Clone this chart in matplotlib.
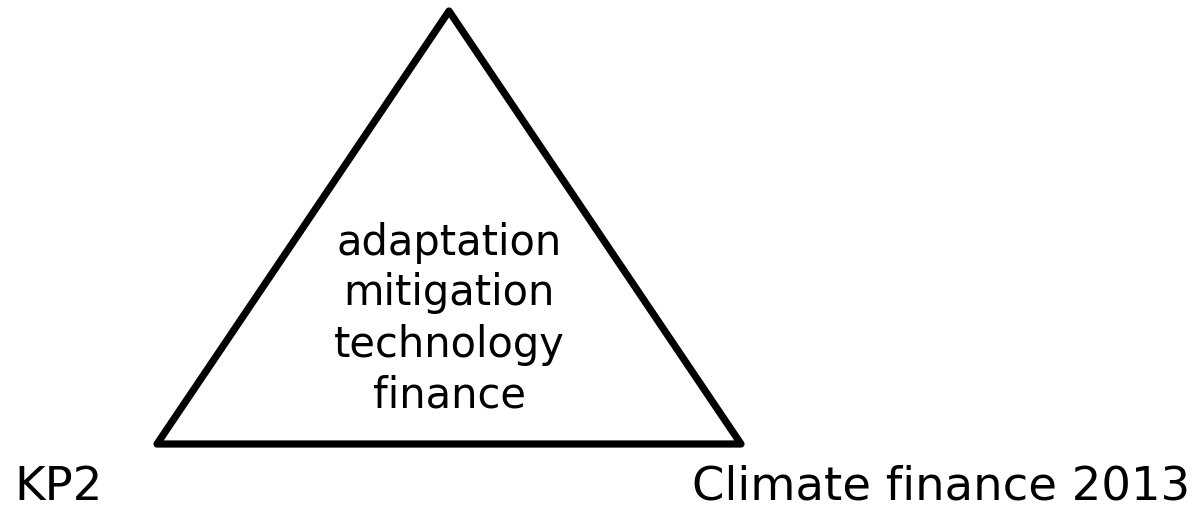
import matplotlib.pyplot as plt

# triangle corners (top, bottom-right, bottom-left)
tri_x = [449, 741, 157]
tri_y = [12, 445, 445]
inner_lines = ["adaptation", "mitigation", "technology", "finance"]
inner_base = [255, 305, 357, 408]
left_label = "KP2"
right_label = "Climate finance 2013"

fig = plt.figure(figsize=(11.98, 5.10), dpi=100)
ax = fig.add_axes([0, 0, 1, 1])
ax.set_xlim(0, 1198)
ax.set_ylim(510, 0)
ax.axis('off')

ax.fill(tri_x, tri_y, facecolor='none', edgecolor='black', linewidth=5.2, joinstyle='round')

for txt, yb in zip(inner_lines, inner_base):
	ax.text(449, yb, txt, ha='center', va='baseline', fontsize=30, family='DejaVu Sans')

# baseline kept a little above the bottom so descent box stays inside
ax.text(14, 500, left_label, ha='left', va='baseline', fontsize=33.5, family='DejaVu Sans')
ax.text(1190, 500, right_label, ha='right', va='baseline', fontsize=33.5, family='DejaVu Sans')

fig.savefig('out.png', dpi=100)
